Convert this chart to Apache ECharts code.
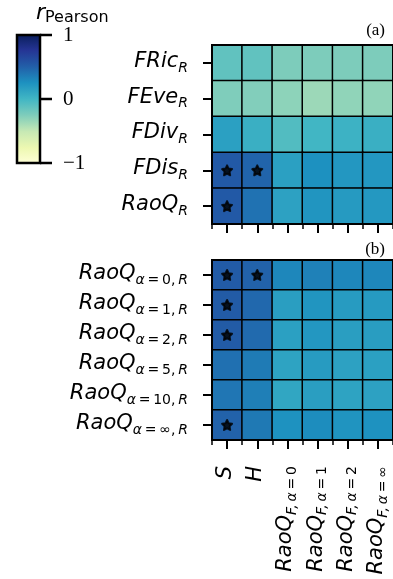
<!DOCTYPE html>
<html><head><meta charset="utf-8">
<script src="https://cdn.jsdelivr.net/npm/echarts@6/dist/echarts.min.js"></script>
<style>html,body{margin:0;padding:0;background:#fff}#c{width:393px;height:579px}</style>
</head><body><div id="c"></div>
<script>
// ---- data ----
const xCats = ['S', 'H', 'F|0', 'F|1', 'F|2', 'F|∞'];
const rowsA = ['FRic', 'FEve', 'FDiv', 'FDis', 'RaoQ'];
const alphasB = ['0', '1', '2', '5', '10', '∞'];
const valuesA = [
  [-0.13, -0.13, -0.24, -0.24, -0.24, -0.24],
  [-0.25, -0.26, -0.30, -0.35, -0.31, -0.31],
  [0.15, 0.05, -0.07, 0.00, 0.03, 0.05],
  [0.53, 0.47, 0.15, 0.25, 0.21, 0.21],
  [0.53, 0.40, 0.14, 0.22, 0.19, 0.20]
];
const valuesB = [
  [0.52, 0.48, 0.30, 0.33, 0.30, 0.30],
  [0.52, 0.45, 0.16, 0.22, 0.18, 0.19],
  [0.52, 0.44, 0.15, 0.21, 0.16, 0.17],
  [0.41, 0.36, 0.13, 0.18, 0.14, 0.15],
  [0.38, 0.34, 0.11, 0.16, 0.13, 0.14],
  [0.48, 0.37, 0.24, 0.27, 0.23, 0.24]
];
const starsA = [[0, 3], [1, 3], [0, 4]];
const starsB = [[0, 0], [1, 0], [0, 1], [0, 2], [0, 5]];
const cbTicks = [1, 0, -1];
const cbTickLabels = ['1', '0', '\u22121'];
const ylgnbu = ['#ffffd9','#edf8b1','#c7e9b4','#7fcdbb','#41b6c4','#1d91c0','#225ea8','#253494','#081d58'];

// ---- helpers ----
const toHeat = (vals) => { const d = []; vals.forEach((r, i) => r.forEach((v, j) => d.push([j, i, v]))); return d; };
const SANS = 'DejaVu Sans';
const TS = '\u2009';
const rich = {
  m: { fontFamily: SANS, fontStyle: 'italic', fontSize: 21, color: '#000', verticalAlign: 'bottom', padding: [0, 0, 3, 0] },
  s: { fontFamily: SANS, fontStyle: 'italic', fontSize: 14, color: '#000', verticalAlign: 'bottom' },
  r: { fontFamily: SANS, fontSize: 14, color: '#000', verticalAlign: 'bottom' }
};
const xFmt = (v) => {
  if (v === 'S' || v === 'H') return '{m|' + v + '}';
  const a = v.split('|')[1];
  return '{m|RaoQ}{s|F,}{r|' + TS + '}{s|α}{r|' + TS + '=' + TS + a + '}';
};
const yFmtA = (v) => '{m|' + v + '}{s|R}';
const yFmtB = (v) => '{m|RaoQ}{s|α}{r|' + TS + '=' + TS + v + ',' + TS + '}{s|R}';

const GL = 212, GW = 184;
const grids = [
  { left: GL, top: 45, width: GW, height: 179, show: true, borderColor: '#000', borderWidth: 2, z: 10, backgroundColor: 'transparent' },
  { left: GL, top: 260, width: GW, height: 180, show: true, borderColor: '#000', borderWidth: 2, z: 10, backgroundColor: 'transparent' }
];
const tickMajor = { show: true, alignWithLabel: true, length: 9, lineStyle: { color: '#000', width: 2 } };
const tickMinor = { show: true, length: 5, lineStyle: { color: '#000', width: 1.5 } };
const xAxes = [
  { type: 'category', gridIndex: 0, data: xCats, position: 'bottom', axisLine: { lineStyle: { color: '#000', width: 2 } }, axisTick: tickMajor, axisLabel: { show: false }, z: 10 },
  { type: 'category', gridIndex: 1, data: xCats, position: 'bottom', axisLine: { lineStyle: { color: '#000', width: 2 } }, axisTick: tickMajor,
    axisLabel: { rotate: 90, margin: 26, formatter: xFmt, rich: rich, interval: 0 }, z: 10 },
  { type: 'value', gridIndex: 0, min: 0, max: 6, interval: 1, position: 'bottom', axisLine: { show: false }, axisTick: tickMinor, axisLabel: { show: false }, splitLine: { show: false }, z: 10 },
  { type: 'value', gridIndex: 1, min: 0, max: 6, interval: 1, position: 'bottom', axisLine: { show: false }, axisTick: tickMinor, axisLabel: { show: false }, splitLine: { show: false }, z: 10 }
];
const yAxes = [
  { type: 'category', gridIndex: 0, data: rowsA, inverse: true, axisLine: { lineStyle: { color: '#000', width: 2 } }, axisTick: tickMajor,
    axisLabel: { margin: 24, formatter: yFmtA, rich: rich, interval: 0 }, z: 10 },
  { type: 'category', gridIndex: 1, data: alphasB, inverse: true, axisLine: { lineStyle: { color: '#000', width: 2 } }, axisTick: tickMajor,
    axisLabel: { margin: 24, formatter: yFmtB, rich: rich, interval: 0 }, z: 10 },
  { type: 'value', gridIndex: 0, min: 0, max: 5, interval: 1, axisLine: { show: false }, axisTick: tickMinor, axisLabel: { show: false }, splitLine: { show: false }, z: 10 },
  { type: 'value', gridIndex: 1, min: 0, max: 6, interval: 1, axisLine: { show: false }, axisTick: tickMinor, axisLabel: { show: false }, splitLine: { show: false }, z: 10 }
];
const starPath = 'path://M50 0 L64.7 29.8 L97.6 34.5 L73.8 57.7 L79.4 90.5 L50 75 L20.6 90.5 L26.2 57.7 L2.4 34.5 L35.3 29.8 Z';
const cellStyle = { borderColor: '#000', borderWidth: 1.5 };
const starSeries = (xi, yi, data) => ({
  type: 'scatter', xAxisIndex: xi, yAxisIndex: yi, data: data, symbol: starPath, symbolSize: 10, z: 5,
  itemStyle: { color: '#000', borderColor: '#000', borderWidth: 2, borderJoin: 'round' }, silent: true
});

// colorbar graphic
const CB = { x: 17, y: 35, w: 23, h: 128 };
const cbY = (v) => CB.y + (1 - v) / 2 * CB.h;
const graphics = [
  { type: 'rect', shape: { x: CB.x, y: CB.y, width: CB.w, height: CB.h },
    style: { fill: { type: 'linear', x: 0, y: 1, x2: 0, y2: 0, colorStops: ylgnbu.map((c, i) => ({ offset: i / (ylgnbu.length - 1), color: c })) },
      stroke: '#000', lineWidth: 2.5 } },
  { type: 'text', x: 36, y: 2, style: { rich: { r: { fontFamily: SANS, fontStyle: 'italic', fontSize: 22, verticalAlign: 'bottom', padding: [0, 0, 2, 0] }, p: { fontFamily: SANS, fontSize: 16, verticalAlign: 'bottom' } }, text: '{r|r}{p|Pearson}', fill: '#000' } },
  { type: 'text', right: 8, top: 22, style: { text: '(a)', font: '17px "Liberation Serif"', fill: '#000' } },
  { type: 'text', right: 8, top: 241, style: { text: '(b)', font: '17px "Liberation Serif"', fill: '#000' } }
];
cbTicks.forEach((v, i) => {
  graphics.push({ type: 'line', shape: { x1: CB.x + CB.w, y1: cbY(v), x2: CB.x + CB.w + 12, y2: cbY(v) }, style: { stroke: '#000', lineWidth: 2.5 } });
  graphics.push({ type: 'text', x: 63, y: cbY(v), style: { text: cbTickLabels[i], font: '21px "Liberation Serif"', fill: '#000', verticalAlign: 'middle' } });
});

const chart = echarts.init(document.getElementById('c'), null, { renderer: 'canvas' });
chart.setOption({
  animation: false,
  grid: grids,
  xAxis: xAxes,
  yAxis: yAxes,
  visualMap: { show: false, type: 'continuous', min: -1, max: 1, seriesIndex: [0, 1], inRange: { color: ylgnbu } },
  graphic: graphics,
  series: [
    { type: 'heatmap', xAxisIndex: 0, yAxisIndex: 0, data: toHeat(valuesA), itemStyle: cellStyle },
    { type: 'heatmap', xAxisIndex: 1, yAxisIndex: 1, data: toHeat(valuesB), itemStyle: cellStyle },
    starSeries(0, 0, starsA),
    starSeries(1, 1, starsB)
  ]
});
</script></body></html>
